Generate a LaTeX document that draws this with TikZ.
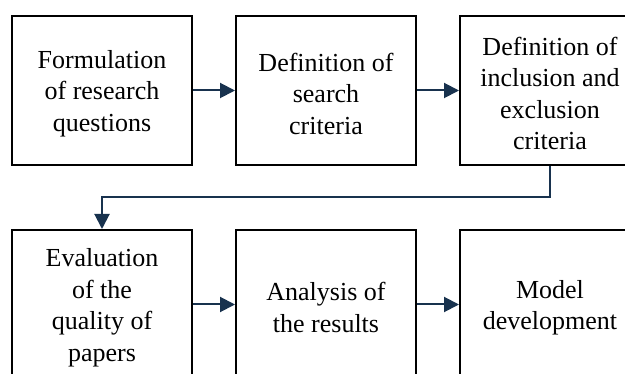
\documentclass[tikz,border=0pt]{standalone}
\usepackage{fontspec}
\setmainfont{Liberation Serif}
\usetikzlibrary{arrows.meta}
\definecolor{navy}{RGB}{24,50,78}
\begin{document}
\begin{tikzpicture}[x=1pt,y=-1pt,
  box/.style={draw=black,line width=2pt,rectangle,minimum width=180pt,minimum height=149pt,
    inner sep=0pt,
    label={[align=center,inner sep=0pt,yshift=-3pt,font=\fontsize{26}{31.5}\selectfont]center:#1}},
  conn/.style={draw=navy,line width=2pt,-{Triangle[length=15pt,width=15pt]}}]
\useasboundingbox (0,0) rectangle (625,374);
\clip (0,0) rectangle (625,374);
\fill[white] (0,0) rectangle (625,374);
\node[box={Formulation\\of research\\questions}] (b1) at (102,90.5) {};
\node[box={Definition of\\search\\criteria}] (b2) at (326,90.5) {};
\node[box={Definition of\\inclusion and\\exclusion\\criteria}] (b3) at (550,90.5) {};
\node[box={Evaluation\\of the\\quality of\\papers}] (b4) at (102,304.5) {};
\node[box={Analysis of\\the results}] (b5) at (326,304.5) {};
\node[box={Model\\development}] (b6) at (550,304.5) {};
\coordinate (mid) at (326,197);
\draw[conn] (b1) -- (b2);
\draw[conn] (b2) -- (b3);
\draw[conn] (b3.south) |- (mid) -| (b4.north);
\draw[conn] (b4) -- (b5);
\draw[conn] (b5) -- (b6);
\end{tikzpicture}
\end{document}
